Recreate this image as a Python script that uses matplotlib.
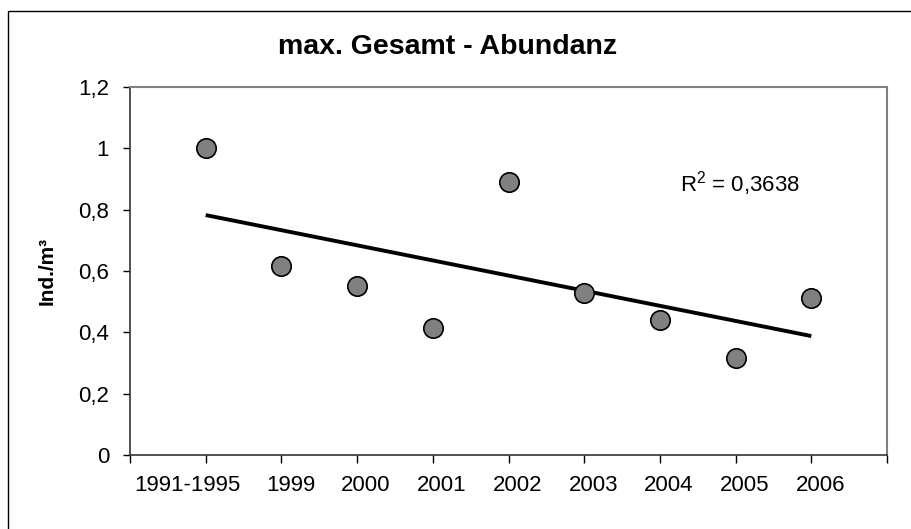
import matplotlib
matplotlib.use("Agg")
import matplotlib.pyplot as plt
import matplotlib.transforms as mtransforms
import numpy as np
from matplotlib.patches import Rectangle

categories = ["1991-1995", "1999", "2000", "2001", "2002", "2003", "2004", "2005", "2006"]
values = [1.0, 0.616, 0.551, 0.413, 0.891, 0.527, 0.44, 0.315, 0.513]
yticks = [0, 0.2, 0.4, 0.6, 0.8, 1.0, 1.2]
ytick_labels = ["0", "0,2", "0,4", "0,6", "0,8", "1", "1,2"]
title = "max. Gesamt - Abundanz"
ylabel = "Ind./m³"
r2_text = "R$^2$ = 0,3638"

plt.rcParams['font.family'] = ['Liberation Sans', 'DejaVu Sans']
plt.rcParams['mathtext.fontset'] = 'custom'
plt.rcParams['mathtext.rm'] = 'Liberation Sans'
plt.rcParams['mathtext.it'] = 'Liberation Sans'

W, H = 912, 529
fig = plt.figure(figsize=(W/100, H/100), dpi=100)
fig.patch.set_facecolor('white')

# outer chart border (extends past right/bottom edge)
fig.patches.append(Rectangle((8/W, -0.05), 1.1, 1 - 11/H + 0.05, transform=fig.transFigure,
                             fill=False, edgecolor='black', linewidth=1.0))

left, right, top, bottom = 130, 887, 87, 455
ax = fig.add_axes([left/W, 1-bottom/H, (right-left)/W, (bottom-top)/H])

x = np.arange(1, len(values)+1)
coef = np.polyfit(x, values, 1)
xt = np.array([x[0], x[-1]])
ax.plot(xt, np.polyval(coef, xt), color='black', linewidth=2.8, solid_capstyle='butt', zorder=2)
ax.plot(x, values, linestyle='none', marker='o', markersize=14, markerfacecolor='#808080',
        markeredgecolor='black', markeredgewidth=1.2, zorder=3)

ax.set_xlim(0, 10)
ax.set_ylim(0, 1.2)
ax.set_xticks(np.arange(0, 11))
ax.set_xticklabels([""] + categories + [""])
ax.set_yticks(yticks)
ax.set_yticklabels(ytick_labels)
ax.tick_params(axis='x', length=6, width=1, pad=8.5, labelsize=16, color='black')
ax.tick_params(axis='y', length=5, width=1, pad=10, labelsize=16, color='black')

# nudge category labels as in the reference rendering
labels = ax.get_xticklabels()
for i, lab in enumerate(labels):
    if i == 1:
        dx = -18/100
    elif 2 <= i <= 9:
        dx = 9/100
    else:
        dx = 0
    lab.set_transform(lab.get_transform() + mtransforms.ScaledTranslation(dx, 0, fig.dpi_scale_trans))

for s in ['top', 'right']:
    ax.spines[s].set_color('#808080')
    ax.spines[s].set_linewidth(1.5)
for s in ['left', 'bottom']:
    ax.spines[s].set_color('#333333')
    ax.spines[s].set_linewidth(1.2)

ax.set_ylabel(ylabel, fontsize=15, fontweight='bold')
ax.yaxis.set_label_coords(-(left-57)/(right-left), 0.5)

ax.text((680-left)/(right-left), 1-(191-top)/(bottom-top), r2_text, transform=ax.transAxes,
        fontsize=16, va='baseline', ha='left')

fig.text(448/W, 1-54/H, title, fontsize=20.5, fontweight='bold', ha='center', va='baseline')

fig.savefig("out.png", dpi=100)
